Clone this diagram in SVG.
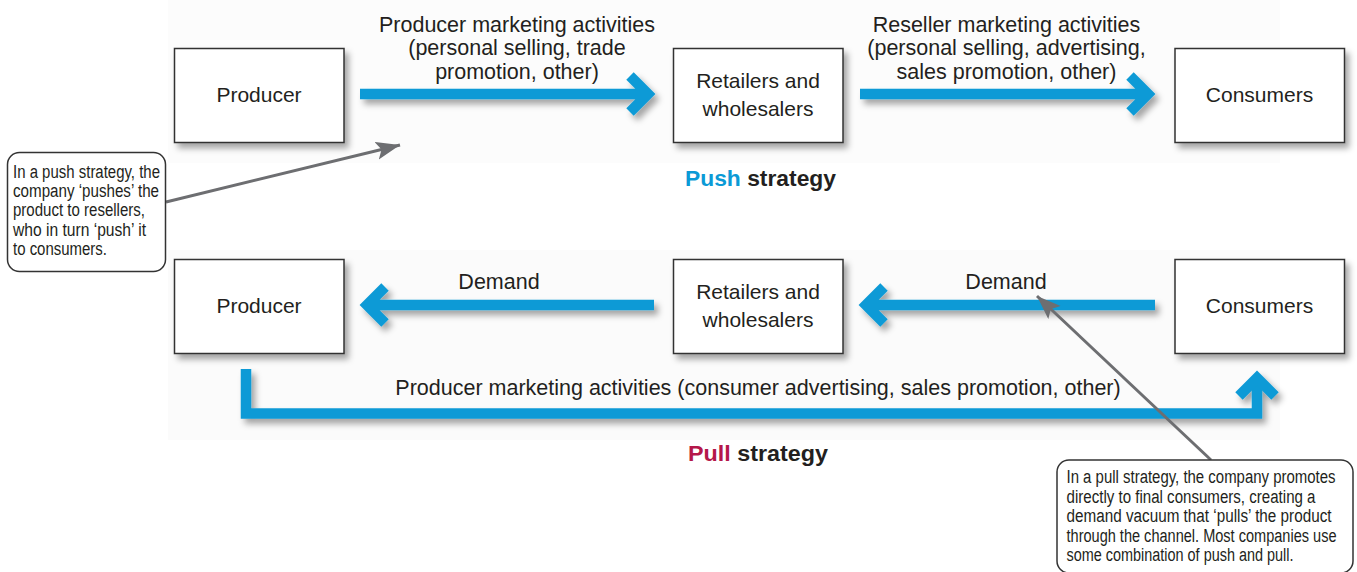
<svg xmlns="http://www.w3.org/2000/svg" width="1357" height="572" viewBox="0 0 1357 572">
<style>
.box{fill:#fff;stroke:#333;stroke-width:1.5}
.t{font-family:"Liberation Sans",Arial,sans-serif;font-size:21.5px;fill:#231f20;text-anchor:middle}
.b{font-family:"Liberation Sans",Arial,sans-serif;font-size:21px;fill:#231f20;text-anchor:middle}
.s{font-family:"Liberation Sans",Arial,sans-serif;font-size:22px;font-weight:bold;fill:#231f20}
.c{font-family:"Liberation Sans Narrow","Liberation Sans",Arial,sans-serif;font-size:18px;fill:#231f20}
.ar{fill:none;stroke:#0b9ad6;stroke-width:10.5;stroke-linejoin:miter;stroke-miterlimit:4}
.call{fill:#fff;stroke:#333;stroke-width:1.5}
.ptr{stroke:#6d6e71;stroke-width:3;fill:none}
</style>
<defs>
<filter id="sh" x="-20%" y="-30%" width="150%" height="180%">
<feDropShadow dx="4" dy="5" stdDeviation="3" flood-color="#000" flood-opacity="0.35"/>
</filter>
<marker id="gh" markerUnits="userSpaceOnUse" markerWidth="26" markerHeight="20" refX="24" refY="9" orient="auto" viewBox="0 0 26 20">
<path d="M0,0 L24,9 L0,18 L5,9 z" fill="#6d6e71"/>
</marker>
</defs>
<rect x="168" y="0" width="1112" height="163" fill="#fcfcfc"/>
<rect x="168" y="250" width="1112" height="190" fill="#fbfbfb"/>

<g id="producer-push" filter="url(#sh)"><rect class="box" x="174.5" y="48.5" width="169.5" height="94"/></g>
<text class="b" x="259" y="101.5">Producer</text>
<g id="retailers-push" filter="url(#sh)"><rect class="box" x="673.5" y="48.5" width="169.5" height="94"/></g>
<text class="b" x="758" y="88">Retailers and</text>
<text class="b" x="758" y="116">wholesalers</text>
<g id="consumers-push" filter="url(#sh)"><rect class="box" x="1175" y="48.5" width="169.5" height="94"/></g>
<text class="b" x="1259.5" y="101.5">Consumers</text>

<g id="producer-pull" filter="url(#sh)"><rect class="box" x="174.5" y="259.5" width="169.5" height="94"/></g>
<text class="b" x="259" y="312.5">Producer</text>
<g id="retailers-pull" filter="url(#sh)"><rect class="box" x="673.5" y="259.5" width="169.5" height="94"/></g>
<text class="b" x="758" y="299">Retailers and</text>
<text class="b" x="758" y="327">wholesalers</text>
<g id="consumers-pull" filter="url(#sh)"><rect class="box" x="1175" y="259.5" width="169.5" height="94"/></g>
<text class="b" x="1259.5" y="312.5">Consumers</text>

<g id="connectors">
<g filter="url(#sh)">
<path class="ar" d="M360,94 H645 M630,76 L648,94 L630,112"/>
<path class="ar" d="M860,94 H1145 M1130,76 L1148,94 L1130,112"/>
<path class="ar" d="M654,305 H370 M385,287 L367,305 L385,323"/>
<path class="ar" d="M1155,305 H870 M884,287 L866,305 L884,323"/>
<path class="ar" d="M246,369 V413.5 H1257 V381"/>
<path class="ar" d="M1239,396 L1257,378 L1275,396"/>
</g>
<line class="ptr" x1="166" y1="202" x2="400" y2="145" marker-end="url(#gh)"/>
<line class="ptr" x1="1211" y1="460" x2="1037" y2="296" marker-end="url(#gh)"/>
</g>

<g id="labels">
<text class="t" x="517" y="31.5">Producer marketing activities</text>
<text class="t" x="517" y="55">(personal selling, trade</text>
<text class="t" x="517" y="79">promotion, other)</text>
<text class="t" x="1006.5" y="31.5">Reseller marketing activities</text>
<text class="t" x="1006.5" y="55">(personal selling, advertising,</text>
<text class="t" x="1006.5" y="79">sales promotion, other)</text>
<text class="s" x="685" y="185.5" textLength="151" lengthAdjust="spacingAndGlyphs"><tspan fill="#0b9ad6">Push</tspan> strategy</text>
<text class="t" x="499" y="288.5">Demand</text>
<text class="t" x="1006" y="288.5">Demand</text>
<text class="t" x="758" y="394.5">Producer marketing activities (consumer advertising, sales promotion, other)</text>
<text class="s" x="688" y="460.5" textLength="140" lengthAdjust="spacingAndGlyphs"><tspan fill="#b5174a">Pull</tspan> strategy</text>
</g>

<g id="callout-push">
<rect class="call" x="7.5" y="152.5" width="158" height="119" rx="12"/>
<text class="c" x="13" y="177.5" textLength="147" lengthAdjust="spacingAndGlyphs">In a push strategy, the</text>
<text class="c" x="13" y="196.5" textLength="146" lengthAdjust="spacingAndGlyphs">company ‘pushes’ the</text>
<text class="c" x="13" y="216" textLength="132" lengthAdjust="spacingAndGlyphs">product to resellers,</text>
<text class="c" x="13" y="235.5" textLength="133" lengthAdjust="spacingAndGlyphs">who in turn ‘push’ it</text>
<text class="c" x="13" y="255" textLength="94" lengthAdjust="spacingAndGlyphs">to consumers.</text>
</g>
<g id="callout-pull">
<rect class="call" x="1057" y="460" width="296" height="113" rx="12"/>
<text class="c" x="1066.5" y="483" textLength="269" lengthAdjust="spacingAndGlyphs">In a pull strategy, the company promotes</text>
<text class="c" x="1066.5" y="502.5" textLength="249" lengthAdjust="spacingAndGlyphs">directly to final consumers, creating a</text>
<text class="c" x="1066.5" y="522" textLength="265" lengthAdjust="spacingAndGlyphs">demand vacuum that ‘pulls’ the product</text>
<text class="c" x="1066.5" y="541.5" textLength="270" lengthAdjust="spacingAndGlyphs">through the channel. Most companies use</text>
<text class="c" x="1066.5" y="561" textLength="227" lengthAdjust="spacingAndGlyphs">some combination of push and pull.</text>
</g>
</svg>
